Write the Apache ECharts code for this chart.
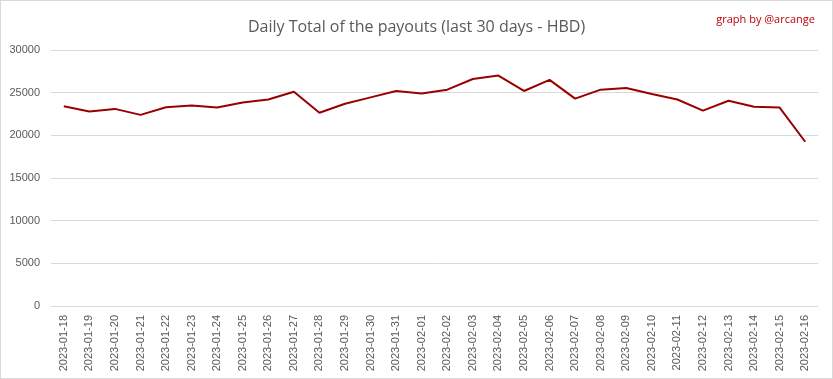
<!DOCTYPE html>
<html><head><meta charset="utf-8">
<script src="https://cdn.jsdelivr.net/npm/echarts@6/dist/echarts.min.js"></script>
<style>html,body{margin:0;padding:0;background:#fff}#c{width:833px;height:379px;box-sizing:border-box;border:1px solid #d9d9d9}</style>
</head><body><div id="c"></div>
<script>
const categories = ["2023-01-18","2023-01-19","2023-01-20","2023-01-21","2023-01-22","2023-01-23","2023-01-24","2023-01-25","2023-01-26","2023-01-27","2023-01-28","2023-01-29","2023-01-30","2023-01-31","2023-02-01","2023-02-02","2023-02-03","2023-02-04","2023-02-05","2023-02-06","2023-02-07","2023-02-08","2023-02-09","2023-02-10","2023-02-11","2023-02-12","2023-02-13","2023-02-14","2023-02-15","2023-02-16"];
const payouts = [23400,22800,23100,22400,23300,23500,23250,23850,24200,25100,22650,23700,24450,25200,24900,25350,26600,27000,25200,26500,24300,25350,25550,24850,24200,22900,24050,23350,23250,19250];
const titleText = "Daily Total of the payouts (last 30 days - HBD)";
const creditText = "graph by @arcange";

const chart = echarts.init(document.getElementById('c'));
chart.setOption({
  animation: false,
  backgroundColor: '#fff',
  title: [
    {text: titleText, left: 'center', top: 13, textStyle: {fontFamily: 'Open Sans', fontSize: 16, fontWeight: 'normal', color: '#595959'}},
    {text: creditText, right: 12, top: 8, textStyle: {fontFamily: 'Open Sans', fontSize: 11, fontWeight: 'normal', color: '#c00000'}}
  ],
  grid: {left: 50, right: 14, top: 49, bottom: 72, containLabel: false},
  xAxis: {
    type: 'category', data: categories, boundaryGap: true,
    axisLine: {show: false}, axisTick: {show: false},
    axisLabel: {rotate: 90, color: '#595959', fontFamily: 'Liberation Sans', fontSize: 11, margin: 9, interval: 0}
  },
  yAxis: {
    type: 'value', min: 0, max: 30000, interval: 5000,
    axisLine: {show: false}, axisTick: {show: false},
    axisLabel: {color: '#595959', fontFamily: 'Liberation Sans', fontSize: 11, margin: 11, formatter: v => String(v)},
    splitLine: {lineStyle: {color: '#d9d9d9', width: 1}}
  },
  series: [{
    type: 'line', data: payouts, symbol: 'none',
    lineStyle: {color: '#990000', width: 2}
  }]
});
</script></body></html>
